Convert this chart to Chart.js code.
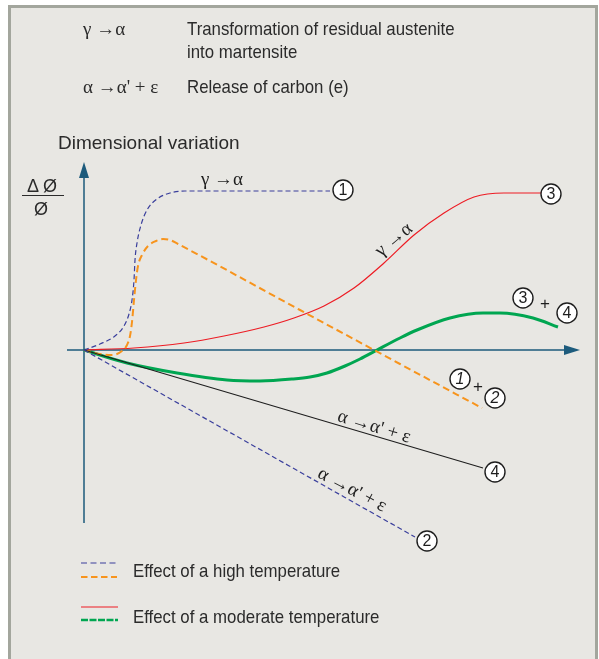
<!DOCTYPE html>
<html>
<head>
<meta charset="utf-8">
<script src="https://cdn.jsdelivr.net/npm/chart.js@4.4.1/dist/chart.umd.min.js"></script>
<style>
  html, body { margin: 0; padding: 0; background: #ffffff; }
  body { width: 599px; height: 659px; position: relative; overflow: hidden; }
  #frame {
    position: absolute; left: 8px; top: 5px; width: 584px; height: 680px;
    border: 3px solid #a3a69d; background: #e8e7e3;
  }
  #chart { position: absolute; left: 0; top: 0; }
  .txt {
    position: absolute; white-space: nowrap; color: #2b2b2b;
    font-family: "Liberation Sans", Arial, sans-serif;
    font-size: 19px; line-height: 19px;
  }
  .narrow { transform: scaleX(0.885); transform-origin: left top; }
  .greek { font-family: "Liberation Serif", "DejaVu Serif", serif; font-size: 19px; }
  .ylab { font-size: 18px; }
  #fracline { position: absolute; left: 22px; top: 195px; width: 42px; height: 0; border-top: 1.3px solid #2b2b2b; }
</style>
</head>
<body>
<div id="frame"></div>
<canvas id="chart" width="599" height="659"></canvas>

<div class="txt greek" style="left:83px; top:19px;">γ →α</div>
<div class="txt narrow" style="left:187px; top:19px;">Transformation of residual austenite</div>
<div class="txt narrow" style="left:187px; top:42px;">into martensite</div>
<div class="txt greek" style="left:83px; top:77px;">α →α' + ε</div>
<div class="txt narrow" style="left:187px; top:77px;">Release of carbon (e)</div>

<div class="txt" style="left:58px; top:133px;">Dimensional variation</div>

<div class="txt ylab" style="left:27px; top:177px;">Δ Ø</div>
<div id="fracline"></div>
<div class="txt ylab" style="left:34px; top:200px;">Ø</div>

<div class="txt narrow" style="left:133px; top:561px;">Effect of a high temperature</div>
<div class="txt narrow" style="left:133px; top:607px;">Effect of a moderate temperature</div>

<script>
  // high temperature, gamma -> alpha (curve 1)
  const curve1X = [0, 3.2, 6.2, 8, 9, 9.6, 10, 10.2, 10.6, 11.4, 12.6, 14.6, 17.2, 20.2, 49.2];
  const curve1Y = [0, 3, 7, 12, 18, 25, 35, 45, 53.5, 62.5, 70, 75.5, 78.5, 79.5, 79.5];

  // high temperature, alpha -> alpha' + epsilon (curve 2)
  const curve2X = [0, 66.2];
  const curve2Y = [0, -93.5];

  // high temperature, sum 1 + 2
  const sum12X = [0, 3.2, 5.6, 7.6, 8.6, 9.2, 9.6, 10, 10.4, 10.8, 11.6, 12.8, 14.4, 15.8, 17.2, 18.8, 43.2, 63.2, 79.6];
  const sum12Y = [0, -2, -2.5, -0.5, 2.5, 7, 14, 25, 35, 42, 47.5, 52, 54.5, 55.5, 55, 53, 20, -7, -29];

  // moderate temperature, gamma -> alpha (curve 3)
  const curve3X = [0, 10, 20, 28, 36, 42, 48, 54, 60, 66, 72, 78, 84, 92];
  const curve3Y = [0, 1, 3.5, 7, 11.5, 16, 22, 31, 43.5, 57.5, 68.5, 76.5, 78.5, 78.5];

  // moderate temperature, alpha -> alpha' + epsilon (curve 4)
  const curve4X = [0, 79.8];
  const curve4Y = [0, -59];

  // moderate temperature, sum 3 + 4
  const sum34X = [0, 8.6, 18.6, 28.6, 35.2, 41.8, 45.2, 48.6, 52.2, 55.2, 58.6, 63.2, 66.6, 73.2, 79.8, 83.2, 89.8, 94.8];
  const sum34Y = [0, -6.5, -11.5, -15, -15.5, -14.5, -13.5, -11.5, -8, -4.5, 0, 6, 10, 16, 18.5, 18.5, 16, 11.5];

  const AXIS = '#1d5b7c';
  const BLUE = '#3a3f9c';
  const ORANGE = '#f7941d';
  const RED = '#ed1c24';
  const GREEN = '#00a651';
  const INK = '#1e1e1e';

  function pts(xs, ys) {
    return xs.map((x, i) => ({ x: x, y: ys[i] }));
  }

  // circled numbers and labels, in data units
  const circles = [
    { t: '1', x: 51.8, y: 80 },
    { t: '3', x: 93.4, y: 78 },
    { t: '4', x: 82.2, y: -61 },
    { t: '2', x: 68.6, y: -95.5 },
    { t: '1', x: 75.2, y: -14.5, italic: true },
    { t: '2', x: 82.2, y: -24, italic: true },
    { t: '3', x: 87.8, y: 26 },
    { t: '4', x: 96.6, y: 18.5 }
  ];
  const pluses = [ { x: 78.8, y: -18.5 }, { x: 92.2, y: 23 } ];
  const labels = [
    { t: 'γ →α', x: 27.6, y: 85, rot: 0 },
    { t: 'γ →α', x: 62, y: 55, rot: -40 },
    { t: "α →α' + ε", x: 58, y: -38.5, rot: 17 },
    { t: "α →α' + ε", x: 53.6, y: -70, rot: 28 }
  ];

  function arrowHead(ctx, x, y, dir) {
    ctx.beginPath();
    if (dir === 'up') {
      ctx.moveTo(x, y); ctx.lineTo(x - 5, y + 16); ctx.lineTo(x + 5, y + 16);
    } else {
      ctx.moveTo(x, y); ctx.lineTo(x - 16, y - 5); ctx.lineTo(x - 16, y + 5);
    }
    ctx.closePath();
    ctx.fill();
  }

  const overlay = {
    id: 'overlay',
    beforeDatasetsDraw(chart) {
      const ctx = chart.ctx, sx = chart.scales.x, sy = chart.scales.y;
      const x0 = sx.getPixelForValue(0), y0 = sy.getPixelForValue(0);
      ctx.save();
      ctx.strokeStyle = AXIS; ctx.fillStyle = AXIS; ctx.lineWidth = 1.5;
      ctx.beginPath();
      ctx.moveTo(x0, sy.getPixelForValue(-86.5));
      ctx.lineTo(x0, sy.getPixelForValue(92));
      ctx.moveTo(sx.getPixelForValue(-3.4), y0);
      ctx.lineTo(sx.getPixelForValue(98), y0);
      ctx.stroke();
      arrowHead(ctx, x0, sy.getPixelForValue(94), 'up');
      arrowHead(ctx, sx.getPixelForValue(99.2), y0, 'right');
      ctx.restore();
    },
    afterDatasetsDraw(chart) {
      const ctx = chart.ctx, sx = chart.scales.x, sy = chart.scales.y;
      ctx.save();
      ctx.textAlign = 'center';
      ctx.textBaseline = 'middle';
      circles.forEach(c => {
        const px = sx.getPixelForValue(c.x), py = sy.getPixelForValue(c.y);
        ctx.beginPath();
        ctx.arc(px, py, 10, 0, Math.PI * 2);
        ctx.fillStyle = '#ffffff'; ctx.fill();
        ctx.strokeStyle = INK; ctx.lineWidth = 1.4; ctx.stroke();
        ctx.fillStyle = INK;
        ctx.font = (c.italic ? 'italic ' : '') + '16px "Liberation Sans", Arial, sans-serif';
        ctx.fillText(c.t, px, py + 1);
      });
      ctx.font = '17px "Liberation Sans", Arial, sans-serif';
      pluses.forEach(p => ctx.fillText('+', sx.getPixelForValue(p.x), sy.getPixelForValue(p.y)));
      ctx.font = '19px "Liberation Serif", "DejaVu Serif", serif';
      labels.forEach(l => {
        ctx.save();
        ctx.translate(sx.getPixelForValue(l.x), sy.getPixelForValue(l.y));
        ctx.rotate(l.rot * Math.PI / 180);
        ctx.fillText(l.t, 0, 0);
        ctx.restore();
      });

      // legend samples
      const sample = (y, color, width, dash, x1, x2) => {
        ctx.beginPath();
        ctx.setLineDash(dash);
        ctx.strokeStyle = color; ctx.lineWidth = width;
        ctx.moveTo(x1, y); ctx.lineTo(x2, y); ctx.stroke();
      };
      sample(563, BLUE, 1.2, [6, 3.5], 81, 117);
      sample(577, ORANGE, 2.2, [6.5, 3.5], 81, 117);
      sample(607, RED, 1.2, [], 81, 118);
      sample(620, GREEN, 2.6, [7, 1.5], 81, 118);
      ctx.restore();
    }
  };

  const line = (data, color, width, dash) => ({
    data: data,
    borderColor: color,
    borderWidth: width,
    borderDash: dash,
    pointRadius: 0,
    fill: false,
    cubicInterpolationMode: 'monotone'
  });

  new Chart(document.getElementById('chart'), {
    type: 'line',
    data: {
      datasets: [
        line(pts(curve2X, curve2Y), BLUE, 1.2, [5, 3]),
        line(pts(curve4X, curve4Y), INK, 1.1, []),
        line(pts(curve1X, curve1Y), BLUE, 1.2, [5, 3]),
        line(pts(sum12X, sum12Y), ORANGE, 2, [7, 4]),
        line(pts(curve3X, curve3Y), RED, 1.2, []),
        line(pts(sum34X, sum34Y), GREEN, 3, [])
      ]
    },
    options: {
      responsive: false,
      animation: false,
      layout: { padding: { left: 67, right: 17, top: 158, bottom: 99 } },
      plugins: { legend: { display: false }, tooltip: { enabled: false } },
      scales: {
        x: { type: 'linear', min: -3.4, max: 99.6, display: false },
        y: { type: 'linear', min: -105, max: 96, display: false }
      }
    },
    plugins: [overlay]
  });
</script>
</body>
</html>
